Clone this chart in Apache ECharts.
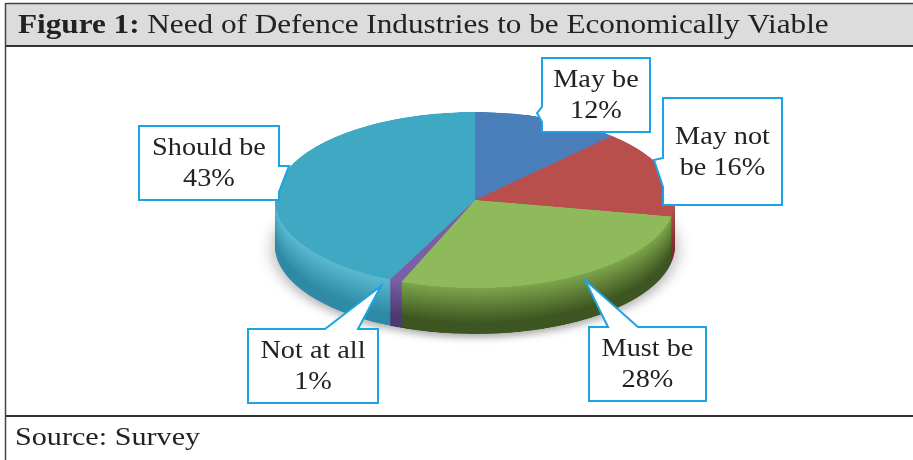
<!DOCTYPE html>
<html><head><meta charset="utf-8">
<script src="https://cdn.jsdelivr.net/npm/echarts@6/dist/echarts.min.js"></script>
<style>
html,body{margin:0;padding:0;background:#fff;}
#wrap{position:relative;width:913px;height:460px;overflow:hidden;background:#fff;}
#pie{position:absolute;left:0;top:0;width:913px;height:1045px;transform:scaleY(0.44);transform-origin:0 0;}
#frame{position:absolute;left:0;top:0;width:913px;height:460px;}
</style></head>
<body><div id="wrap"><div id="pie"></div><div id="frame"></div></div>
<script>
// ---- data ----
const categories = ['May be', 'May not be', 'Must be', 'Not at all', 'Should be'];
const values = [12, 16, 28, 1, 43];
const labelLines = [['May be', '12%'], ['May not', 'be 16%'], ['Must be', '28%'], ['Not at all', '1%'], ['Should be', '43%']];
const titleBold = 'Figure 1:';
const titleRest = ' Need of Defence Industries to be Economically Viable';
const sourceText = 'Source: Survey';

// ---- styles ----
const topColors  = ['#4a7ebb', '#b94f4c', '#8fba5c', '#7a5ea6', '#3fa8c2'];
const sideLight  = ['#5b8fcc', '#b0504c', '#7ea64c', '#7a5fa8', '#5cbad3'];
const sideDark   = ['#34588a', '#7c302d', '#3e5622', '#4e3a72', '#2f8aa4'];
const SCALE = 0.44, CX = 475, CY = 200, R = 200, DEPTH = 46;

function hex(c){return [1,3,5].map(i=>parseInt(c.substr(i,2),16));}
function mix(a,b,t){const A=hex(a),B=hex(b);return 'rgb('+A.map((v,i)=>Math.round(v+(B[i]-v)*t)).join(',')+')';}

const pieData = (colors) => categories.map((n, i) => ({name: n, value: values[i], itemStyle: {color: colors[i]}}));

const series = [];
const N = 46;
const cyU = CY / SCALE, depthU = DEPTH / SCALE;
for (let k = N; k >= 1; k--) {
  const t = k / N;
  const cols = categories.map((_, i) => mix(sideLight[i], sideDark[i], Math.min(1, t * 1.3)));
  series.push({
    type: 'pie', silent: true, animation: false,
    center: [CX, cyU + depthU * t], radius: [0, R],
    startAngle: 90, clockwise: true,
    label: {show: false}, labelLine: {show: false},
    itemStyle: k === N ? {borderWidth: 0, shadowColor: 'rgba(0,0,0,0.35)', shadowBlur: 18, shadowOffsetY: 8} : {borderWidth: 0},
    data: pieData(cols)
  });
}
series.push({
  type: 'pie', animation: false,
  center: [CX, cyU], radius: [0, R],
  startAngle: 90, clockwise: true,
  label: {show: false}, labelLine: {show: false},
  itemStyle: {borderWidth: 0},
  data: pieData(topColors)
});
const pieChart = echarts.init(document.getElementById('pie'), null, {renderer: 'canvas'});
pieChart.setOption({animation: false, series: series});

// ---- frame, title, callouts ----
const FONT = "'Liberation Serif', 'DejaVu Serif', serif";
const BLUE = '#1ca3e3';
const callouts = [
  {box: [542, 58, 650, 132], poly: [[542,58],[650,58],[650,132],[542,132],[542,122],[537,113],[542,107]]},
  {box: [663, 98, 782, 205], poly: [[663,98],[782,98],[782,205],[663,205],[663,187],[654,160],[663,158]]},
  {box: [589, 327, 706, 401], poly: [[589,327],[608,327],[585,280],[638,327],[706,327],[706,401],[589,401]]},
  {box: [248, 329, 378, 403], poly: [[248,329],[325,329],[381,286],[358,329],[378,329],[378,403],[248,403]]},
  {box: [139, 126, 279, 200], poly: [[139,126],[279,126],[279,166],[289,166],[279,192],[279,200],[139,200]]}
];
const g = [];
g.push({type: 'rect', shape: {x: 6, y: 4, width: 907, height: 42}, style: {fill: '#dcdcdc'}});
g.push({type: 'line', shape: {x1: 6, y1: 3.5, x2: 913, y2: 3.5}, style: {stroke: '#444', lineWidth: 1.5}});
g.push({type: 'line', shape: {x1: 6, y1: 46, x2: 913, y2: 46}, style: {stroke: '#333', lineWidth: 2}});
g.push({type: 'line', shape: {x1: 5.5, y1: 3, x2: 5.5, y2: 460}, style: {stroke: '#444', lineWidth: 1.5}});
g.push({type: 'line', shape: {x1: 6, y1: 416, x2: 913, y2: 416}, style: {stroke: '#333', lineWidth: 2}});
g.push({type: 'text', x: 18, y: 26, scaleX: 1.155, style: {
  text: '{b|' + titleBold + '}{r|' + titleRest + '}', verticalAlign: 'middle',
  rich: {b: {fontFamily: FONT, fontSize: 27, fontWeight: 'bold', fill: '#222'},
         r: {fontFamily: FONT, fontSize: 27, fill: '#222'}}}});
g.push({type: 'text', x: 15, y: 438, scaleX: 1.16, style: {text: sourceText, fontFamily: FONT, fontSize: 26, fill: '#222', verticalAlign: 'middle'}});
callouts.forEach((c, i) => {
  g.push({type: 'polygon', shape: {points: c.poly}, style: {fill: '#fff', stroke: BLUE, lineWidth: 2}});
  const cx = (c.box[0] + c.box[2]) / 2, cy = (c.box[1] + c.box[3]) / 2;
  g.push({type: 'text', x: cx, y: cy + 1, scaleX: 1.13, style: {
    text: labelLines[i].join('\n'), fontFamily: FONT, fontSize: 25, lineHeight: 31,
    fill: '#222', align: 'center', verticalAlign: 'middle'}});
});
const frame = echarts.init(document.getElementById('frame'), null, {renderer: 'canvas'});
frame.setOption({animation: false, graphic: {elements: g}});
</script>
</body></html>
